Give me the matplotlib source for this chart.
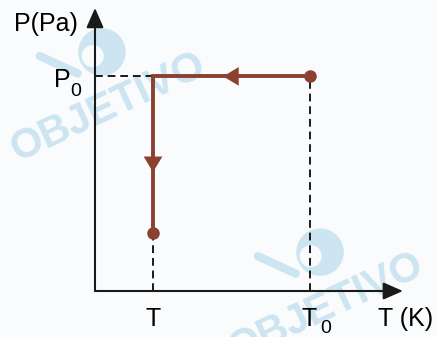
import matplotlib.pyplot as plt
from matplotlib.patches import Circle

plt.rcParams['font.family'] = ['Liberation Sans', 'DejaVu Sans']

# process: isobaric cooling from T0 to T, then isothermal drop in pressure
T_vals = [3.7, 1.0, 1.0]      # T0 -> T -> T
P_vals = [3.7, 3.7, 1.0]      # P0 -> P0 -> final pressure
T_ticks = [1.0, 3.7]
T_labels = ['T', 'T']
P0 = 3.7

brown = '#8b4030'
bg = '#f9fbfd'
wm = '#cce5f0'

fig = plt.figure(figsize=(4.37, 3.37), dpi=100, facecolor=bg)
ax = fig.add_axes([0, 0, 1, 1])
ax.set_facecolor(bg)
ax.set_xlim(-1.638, 5.897)
ax.set_ylim(-0.793, 5.017)
ax.axis('off')

# faint logo watermarks (disc, hollow, beak stroke and lettering)
for dx, dy in [(0.0, 0.0), (3.76, -3.45)]:
    ax.add_patch(Circle((0.12 + dx, 4.12 + dy), 0.41, facecolor=wm, edgecolor='none', zorder=0))
    ax.add_patch(Circle((-0.04 + dx, 4.05 + dy), 0.19, facecolor=bg, edgecolor='none', zorder=0))
    ax.plot([-0.95 + dx, -0.3 + dx], [4.05 + dy, 3.75 + dy], color=wm, lw=6,
            solid_capstyle='round', zorder=0)
    ax.text(0.22 + dx, 3.17 + dy, 'OBJETIVO', fontsize=30, fontweight='bold', color=wm,
            rotation=25, ha='center', va='center', zorder=0)

# axes with arrow heads
ax.annotate('', xy=(5.31, 0), xytext=(0, 0),
            arrowprops=dict(arrowstyle='-|>,head_length=0.8,head_width=0.35',
                            mutation_scale=15, lw=1.5, color='#1a1a1a',
                            shrinkA=0, shrinkB=0))
ax.annotate('', xy=(0, 4.88), xytext=(0, 0),
            arrowprops=dict(arrowstyle='-|>,head_length=0.8,head_width=0.35',
                            mutation_scale=15, lw=1.5, color='#1a1a1a',
                            shrinkA=0, shrinkB=0))

# dashed guide lines
dash = dict(color='#1a1a1a', lw=1.4, ls=(0, (4, 2.5)), zorder=2)
ax.plot([0, T_vals[1]], [P0, P0], **dash)
ax.plot([T_vals[0], T_vals[0]], [0, P_vals[0]], **dash)
ax.plot([T_vals[2], T_vals[2]], [0, P_vals[2]], **dash)

# the process path
ax.plot(T_vals, P_vals, color=brown, lw=2.8, solid_joinstyle='miter', zorder=3)
ax.plot([T_vals[0], T_vals[2]], [P_vals[0], P_vals[2]], 'o', color=brown,
        ms=8, zorder=4)

# direction arrows on the path
head = dict(arrowstyle='-|>,head_length=0.7,head_width=0.42', mutation_scale=16,
            color=brown, lw=0, shrinkA=0, shrinkB=0)
ax.annotate('', xy=(2.21, P0), xytext=(2.6, P0), arrowprops=head, zorder=5)
ax.annotate('', xy=(T_vals[1], 2.05), xytext=(T_vals[1], 2.45), arrowprops=head, zorder=5)

# labels
fs = 18
ax.text(-0.85, 4.6, 'P(Pa)', fontsize=fs, ha='center', va='center')
ax.text(-0.57, 3.63, 'P', fontsize=fs, ha='center', va='center')
ax.text(-0.33, 3.44, '0', fontsize=14, ha='center', va='center')
ax.text(T_ticks[0], -0.49, T_labels[0], fontsize=fs, ha='center', va='center')
ax.text(T_ticks[1], -0.49, T_labels[1], fontsize=fs, ha='center', va='center')
ax.text(T_ticks[1] + 0.28, -0.64, '0', fontsize=14, ha='center', va='center')
ax.text(5.36, -0.49, 'T (K)', fontsize=fs, ha='center', va='center')

fig.savefig('out.png', dpi=100, facecolor=bg)
